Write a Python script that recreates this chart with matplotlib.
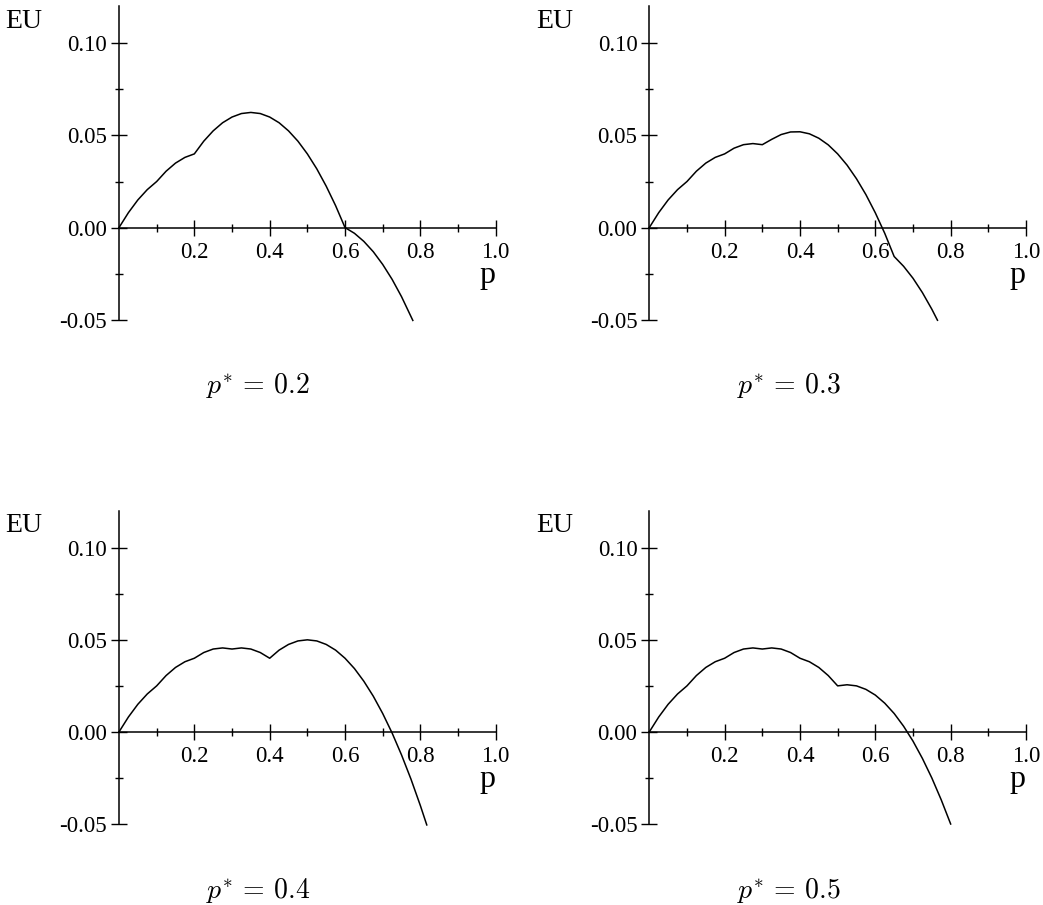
import matplotlib
matplotlib.use("Agg")
import matplotlib.pyplot as plt
from matplotlib.ticker import FixedLocator, FixedFormatter

plt.rcParams['font.family'] = ['Liberation Serif', 'DejaVu Serif']
plt.rcParams['mathtext.fontset'] = 'cm'

# ---- data ----
p_star_labels = ["0.2", "0.3", "0.4", "0.5"]

p1 = [0, 0.025, 0.05, 0.075, 0.1, 0.125, 0.15, 0.175, 0.2, 0.225, 0.25, 0.275, 0.3,
      0.325, 0.35, 0.375, 0.4, 0.425, 0.45, 0.475, 0.5, 0.525, 0.55, 0.575, 0.6,
      0.625, 0.65, 0.675, 0.7, 0.725, 0.75, 0.78]
eu1 = [0, 0.0081, 0.0150, 0.0206, 0.0250, 0.0306, 0.0350, 0.0381, 0.0400, 0.0469, 0.0525,
       0.0569, 0.0600, 0.0619, 0.0625, 0.0619, 0.0600, 0.0569, 0.0525, 0.0469, 0.0400,
       0.0319, 0.0225, 0.0119, 0.0000, -0.0031, -0.0075, -0.0131, -0.0200, -0.0281,
       -0.0375, -0.0504]

p2 = [0, 0.025, 0.05, 0.075, 0.1, 0.125, 0.15, 0.175, 0.2, 0.225, 0.25, 0.275, 0.3,
      0.325, 0.35, 0.375, 0.4, 0.425, 0.45, 0.475, 0.5, 0.525, 0.55, 0.575, 0.6,
      0.625, 0.65, 0.675, 0.7, 0.725, 0.75, 0.765]
eu2 = [0, 0.0081, 0.0150, 0.0206, 0.0250, 0.0306, 0.0350, 0.0381, 0.0400, 0.0431, 0.0450,
       0.0456, 0.0450, 0.0479, 0.0505, 0.0519, 0.0520, 0.0509, 0.0485, 0.0449, 0.0400,
       0.0339, 0.0265, 0.0179, 0.0080, -0.0031, -0.0157, -0.0210, -0.0275, -0.0353,
       -0.0443, -0.0503]

p3 = [0, 0.025, 0.05, 0.075, 0.1, 0.125, 0.15, 0.175, 0.2, 0.225, 0.25, 0.275, 0.3,
      0.325, 0.35, 0.375, 0.4, 0.425, 0.45, 0.475, 0.5, 0.525, 0.55, 0.575, 0.6,
      0.625, 0.65, 0.675, 0.7, 0.725, 0.75, 0.775, 0.8, 0.817]
eu3 = [0, 0.0081, 0.0150, 0.0206, 0.0250, 0.0306, 0.0350, 0.0381, 0.0400, 0.0431, 0.0450,
       0.0456, 0.0450, 0.0456, 0.0450, 0.0431, 0.0400, 0.0444, 0.0475, 0.0494, 0.0500,
       0.0494, 0.0475, 0.0444, 0.0400, 0.0344, 0.0275, 0.0194, 0.0100, -0.0006,
       -0.0125, -0.0256, -0.0400, -0.0505]

p4 = [0, 0.025, 0.05, 0.075, 0.1, 0.125, 0.15, 0.175, 0.2, 0.225, 0.25, 0.275, 0.3,
      0.325, 0.35, 0.375, 0.4, 0.425, 0.45, 0.475, 0.5, 0.525, 0.55, 0.575, 0.6,
      0.625, 0.65, 0.675, 0.7, 0.725, 0.75, 0.775, 0.8]
eu4 = [0, 0.0081, 0.0150, 0.0206, 0.0250, 0.0306, 0.0350, 0.0381, 0.0400, 0.0431, 0.0450,
       0.0456, 0.0450, 0.0456, 0.0450, 0.0431, 0.0400, 0.0381, 0.0350, 0.0306, 0.0250,
       0.0256, 0.0250, 0.0231, 0.0200, 0.0156, 0.0100, 0.0031, -0.0050, -0.0144,
       -0.0250, -0.0369, -0.0500]

x_ticks = [0.2, 0.4, 0.6, 0.8, 1.0]
x_tick_labels = ["0.2", "0.4", "0.6", "0.8", "1.0"]
y_ticks = [-0.05, 0.00, 0.05, 0.10]
y_tick_labels = ["-0.05", "0.00", "0.05", "0.10"]

series = [(p1, eu1), (p2, eu2), (p3, eu3), (p4, eu4)]

W, H = 1043, 905
fig = plt.figure(figsize=(W / 100, H / 100), dpi=100)

# axes pixel boxes: (x pixel of p=0, x pixel of p=1, y pixel of EU=0.12, y pixel of EU=-0.05)
boxes = [(119, 495.7, 6.5, 319.7), (649.3, 1026, 6.5, 319.7),
         (119, 495.7, 510.9, 824), (649.3, 1026, 510.9, 824)]
cap_pos = [(258, 385), (789, 385), (258, 890), (789, 890)]

for i, ((px, py), (x0, x1, yt, yb)) in enumerate(zip(series, boxes)):
    ax = fig.add_axes([x0 / W, 1 - yb / H, (x1 - x0) / W, (yb - yt) / H])
    ax.set_xlim(0, 1.0)
    ax.set_ylim(-0.05, 0.12)
    ax.plot(px, py, color='black', lw=1.1, clip_on=False,
            solid_joinstyle='round')
    for s in ['top', 'right']:
        ax.spines[s].set_visible(False)
    ax.spines['left'].set_position(('data', 0))
    ax.spines['bottom'].set_position(('data', 0))
    for s in ['left', 'bottom']:
        ax.spines[s].set_linewidth(1.1)
    ax.xaxis.set_major_locator(FixedLocator(x_ticks))
    ax.xaxis.set_major_formatter(FixedFormatter(x_tick_labels))
    ax.xaxis.set_minor_locator(FixedLocator([0.1, 0.3, 0.5, 0.7, 0.9]))
    ax.yaxis.set_major_locator(FixedLocator(y_ticks))
    ax.yaxis.set_major_formatter(FixedFormatter(y_tick_labels))
    ax.yaxis.set_minor_locator(FixedLocator([-0.025, 0.025, 0.075]))
    ax.tick_params(which='major', direction='inout', length=11.0, width=1.0,
                   labelsize=16.5)
    ax.tick_params(which='minor', direction='inout', length=6.0, width=1.0)
    ax.tick_params(axis='x', which='major', pad=5)
    ax.tick_params(axis='y', which='major', pad=3)
    ax.patch.set_visible(False)
    ax.text(-0.252, 0.112, "EU", fontsize=20, ha='center', va='center')
    ax.text(0.977, -0.030, "p", fontsize=23, ha='center', va='baseline')
    cx, cy = cap_pos[i]
    fig.text(cx / W, 1 - cy / H, r"$p^{*}\,=\," + p_star_labels[i] + "$",
             fontsize=20, ha='center', va='center')

fig.savefig("out.png", dpi=100)
